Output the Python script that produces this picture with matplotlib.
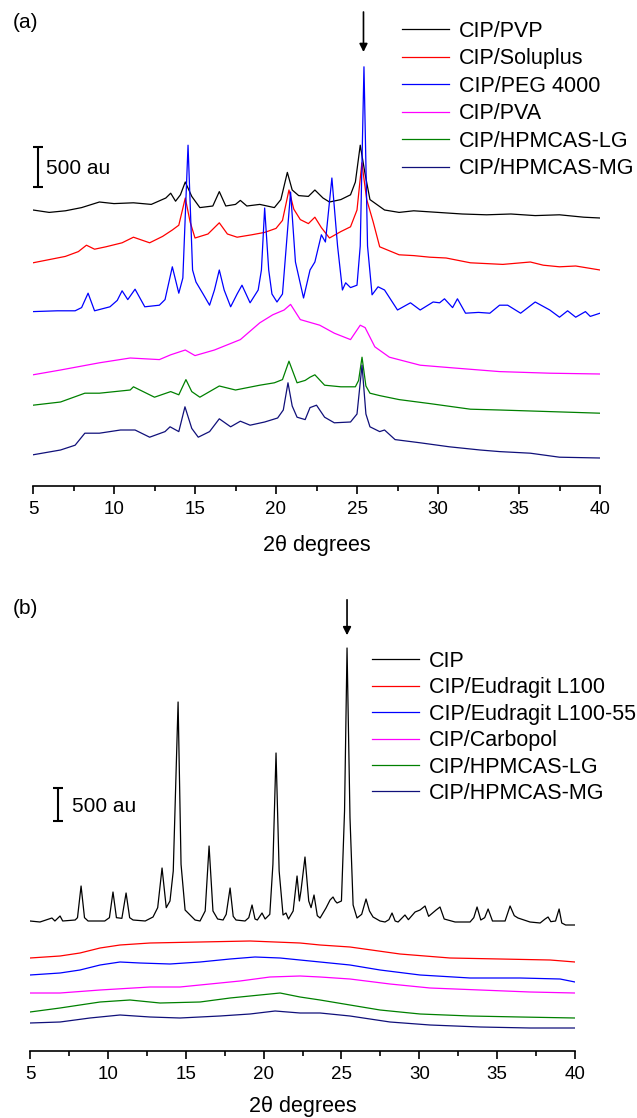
import matplotlib
matplotlib.use("Agg")
import matplotlib.pyplot as plt

plt.rcParams['font.family'] = ['Liberation Sans', 'DejaVu Sans']

# ---------------- panel (a): CIP / polymer blends ----------------
a_labels = ["CIP/PVP", "CIP/Soluplus", "CIP/PEG 4000", "CIP/PVA", "CIP/HPMCAS-LG", "CIP/HPMCAS-MG"]
a_colors = ["black", "#ff0000", "#0000ff", "#ff00ff", "#008000", "#10107a"]

a_pvp_x = [5.0, 6.0, 7.0, 8.0, 9.1, 10.0, 11.2, 12.3, 13.2, 13.5, 13.8, 14.1, 14.4, 14.8, 15.3, 16.1, 16.5, 16.9,
           17.5, 17.8, 18.2, 19.0, 19.9, 20.3, 20.7, 21.0, 21.4, 22.0, 22.4, 22.9, 23.3, 24.0, 24.6, 24.9, 25.2,
           25.5, 25.8, 26.7, 27.6, 28.5, 30.0, 31.5, 33.0, 34.5, 36.0, 37.5, 39.0, 40.0]
a_pvp_y = [3450, 3420, 3440, 3480, 3550, 3530, 3540, 3520, 3600, 3660, 3560, 3640, 3800, 3620, 3480, 3500, 3680, 3500,
           3520, 3570, 3500, 3520, 3480, 3580, 3920, 3700, 3630, 3620, 3700, 3600, 3550, 3580, 3640, 3800, 4260,
           3900, 3580, 3450, 3420, 3440, 3420, 3400, 3390, 3400, 3380, 3390, 3360, 3350]

a_sol_x = [5.0, 6.0, 7.0, 7.8, 8.3, 8.8, 9.5, 10.5, 11.2, 12.2, 13.0, 13.6, 14.0, 14.4, 14.7, 15.0, 15.8, 16.5,
           17.0, 17.6, 18.5, 19.3, 20.0, 20.4, 20.8, 21.1, 21.5, 22.0, 22.4, 22.8, 23.3, 24.0, 24.6, 25.0, 25.3,
           25.6, 26.0, 26.4, 27.0, 27.6, 28.5, 29.5, 30.5, 32.0, 33.0, 34.0, 35.7, 36.5, 37.5, 38.5, 40.0]
a_sol_y = [2790, 2830, 2870, 2930, 3010, 2960, 2990, 3040, 3110, 3040, 3120, 3200, 3260, 3600, 3300, 3100, 3150, 3290,
           3150, 3110, 3140, 3170, 3220, 3320, 3700, 3460, 3330, 3280, 3360, 3230, 3100, 3180, 3240, 3450, 4040,
           3580, 3300, 2990, 2940, 2890, 2880, 2860, 2850, 2790, 2780, 2770, 2800, 2760, 2740, 2750, 2700]

a_peg_x = [5.0, 6.5, 7.6, 8.0, 8.4, 8.8, 9.75, 10.2, 10.5, 10.85, 11.3, 11.9, 12.8, 13.15, 13.6, 14.0, 14.25, 14.57,
           14.85, 15.06, 15.5, 15.9, 16.2, 16.5, 16.8, 17.2, 17.6, 17.9, 18.4, 18.9, 19.1, 19.3, 19.55, 19.75, 20.06,
           20.4, 20.9, 21.2, 21.7, 22.1, 22.4, 22.8, 23.05, 23.45, 23.8, 24.1, 24.3, 24.6, 25.0, 25.2, 25.43, 25.65,
           25.93, 26.3, 26.7, 27.5, 28.3, 28.9, 29.7, 30.1, 30.4, 30.9, 31.2, 31.7, 32.5, 33.2, 33.8, 34.3, 35.1,
           36.0, 36.9, 37.5, 38.0, 38.5, 39.1, 39.4, 40.0]
a_peg_y = [2180, 2190, 2190, 2230, 2410, 2190, 2240, 2320, 2440, 2330, 2460, 2240, 2260, 2330, 2740, 2410, 2600, 4260,
           2700, 2550, 2400, 2260, 2450, 2700, 2450, 2240, 2400, 2510, 2290, 2450, 2700, 3475, 2700, 2400, 2300,
           2400, 3675, 2800, 2350, 2700, 2800, 3140, 3050, 3850, 3000, 2450, 2540, 2480, 2510, 3000, 5240, 3000,
           2390, 2490, 2450, 2200, 2290, 2200, 2300, 2290, 2340, 2230, 2340, 2160, 2170, 2160, 2260, 2260, 2160,
           2300, 2200, 2110, 2190, 2110, 2180, 2120, 2160]

a_pva_x = [5.0, 6.7, 9.1, 11.0, 12.8, 13.5, 14.4, 15.0, 16.2, 17.8, 19.0, 19.8, 20.5, 20.9, 21.5, 22.7, 23.6, 24.6,
           25.2, 25.5, 26.1, 27.0, 28.9, 30.7, 33.8, 36.9, 40.0]
a_pva_y = [1390, 1450, 1540, 1600, 1580, 1640, 1700, 1630, 1700, 1830, 2040, 2140, 2200, 2270, 2080, 2010, 1910, 1830,
           2010, 1980, 1740, 1610, 1510, 1480, 1430, 1410, 1400]

a_lg_x = [5.0, 6.7, 8.2, 9.1, 11.0, 11.2, 12.5, 13.5, 14.0, 14.44, 14.8, 15.3, 16.5, 17.5, 19.0, 19.9, 20.4, 20.8,
          21.3, 21.8, 22.1, 22.4, 23.0, 24.0, 24.9, 25.1, 25.31, 25.55, 25.8, 26.4, 27.6, 29.5, 32.0, 33.8, 36.9, 40.0]
a_lg_y = [1010, 1050, 1160, 1160, 1200, 1240, 1110, 1180, 1140, 1330, 1180, 1110, 1250, 1200, 1260, 1290, 1330, 1560,
          1290, 1320, 1360, 1390, 1260, 1240, 1240, 1320, 1610, 1250, 1160, 1130, 1080, 1030, 960, 950, 930, 910]

a_mg_x = [5.0, 6.7, 7.6, 8.2, 9.1, 10.4, 11.3, 12.2, 13.15, 13.46, 14.0, 14.38, 14.8, 15.2, 15.9, 16.5, 17.2, 17.8,
          18.4, 19.3, 20.1, 20.45, 20.74, 21.0, 21.3, 21.8, 22.1, 22.5, 23.0, 23.6, 24.6, 25.0, 25.31, 25.55, 25.8,
          26.4, 26.7, 27.35, 28.9, 30.7, 32.6, 33.8, 35.7, 37.5, 40.0]
a_mg_y = [390, 450, 510, 660, 660, 700, 700, 610, 680, 740, 680, 990, 720, 610, 680, 840, 740, 810,
          760, 800, 850, 950, 1290, 1000, 860, 830, 980, 1010, 860, 790, 800, 900, 1510, 900, 740,
          680, 700, 580, 540, 490, 450, 430, 410, 360, 350]

# ---------------- panel (b): CIP and amorphous blends ----------------
b_labels = ["CIP", "CIP/Eudragit L100", "CIP/Eudragit L100-55", "CIP/Carbopol", "CIP/HPMCAS-LG", "CIP/HPMCAS-MG"]
b_colors = ["black", "#ff0000", "#0000ff", "#ff00ff", "#008000", "#10107a"]

b_cip_x = [5.0, 5.64, 6.41, 6.6, 6.93, 7.1, 7.9, 8.05, 8.28, 8.5, 8.73, 9.8, 10.1, 10.33, 10.55, 10.9, 11.17, 11.4,
           11.62, 12.4, 12.9, 13.2, 13.48, 13.75, 13.99, 14.2, 14.51, 14.7, 14.96, 15.6, 15.92, 16.25, 16.5, 16.75,
           17.05, 17.4, 17.6, 17.85, 18.05, 18.23, 18.81, 19.05, 19.26, 19.45, 19.6, 19.9, 20.1, 20.4, 20.6, 20.8,
           21.0, 21.25, 21.44, 21.6, 21.9, 22.15, 22.3, 22.4, 22.66, 22.9, 23.05, 23.24, 23.45, 23.63, 24.01, 24.27,
           24.46, 24.6, 24.72, 25.0, 25.2, 25.36, 25.55, 25.75, 26.0, 26.3, 26.58, 26.8, 27.03, 27.48, 27.8, 28.05,
           28.25, 28.45, 28.64, 29.08, 29.3, 29.73, 30.05, 30.37, 30.6, 31.08, 31.33, 31.6, 32.3, 33.26, 33.5, 33.71,
           33.95, 34.2, 34.42, 34.7, 35.51, 35.83, 36.1, 36.34, 37.11, 37.76, 38.08, 38.27, 38.45, 38.75, 38.98,
           39.15, 39.4, 40.0]
b_cip_y = [1950, 1935, 1995, 1950, 2025, 1950, 1965, 2000, 2475, 2000, 1950, 1950, 2000, 2385, 2000, 1990, 2370, 2000,
           1965, 1950, 2010, 2150, 2745, 2150, 2250, 2700, 5235, 2800, 2115, 1965, 1950, 2100, 3075, 2100,
           1980, 1965, 2050, 2445, 2020, 1965, 1950, 2000, 2190, 1980, 1965, 2070, 1980, 2050, 2800, 4470,
           2700, 2040, 2070, 1980, 2100, 2625, 2250, 2400, 2910, 2250, 2150, 2340, 2030, 1995, 2145, 2265,
           2310, 2250, 2220, 2250, 3600, 6045, 3500, 2190, 1995, 2050, 2280, 2100, 2010, 1950, 1935, 1970,
           2070, 1950, 1935, 2040, 1970, 2085, 2115, 2175, 2020, 2115, 2160, 1980, 1935, 1935, 2000, 2160,
           1965, 2000, 2130, 1950, 1950, 2175, 2030, 1995, 1935, 1920, 1980, 2010, 1940, 1950, 2130,
           1920, 1890, 1890]

b_l100_x = [5.0, 6.93, 8.21, 9.5, 10.78, 12.71, 15.92, 19.13, 22.34, 23.63, 25.55, 28.76, 31.97, 35.19, 38.4, 40.0]
b_l100_y = [1395, 1425, 1470, 1545, 1590, 1620, 1635, 1650, 1620, 1590, 1560, 1455, 1395, 1380, 1365, 1335]

b_l10055_x = [5.0, 6.93, 8.21, 9.5, 10.78, 12.06, 13.99, 15.92, 17.85, 19.45, 21.06, 22.34, 23.63, 25.55, 27.48,
              30.05, 33.26, 36.47, 39.04, 40.0]
b_l10055_y = [1140, 1170, 1215, 1290, 1335, 1320, 1305, 1335, 1380, 1410, 1395, 1365, 1335, 1290, 1215,
              1140, 1095, 1095, 1080, 1035]

b_carb_x = [5.0, 6.93, 9.5, 12.71, 14.63, 16.56, 18.49, 20.41, 22.34, 23.63, 25.55, 28.12, 30.69, 33.9, 37.11, 40.0]
b_carb_y = [870, 870, 915, 960, 960, 1005, 1050, 1110, 1125, 1110, 1080, 1005, 945, 915, 885, 870]

b_lg_x = [5.0, 6.93, 8.21, 9.5, 11.42, 13.35, 15.92, 17.85, 19.77, 21.06, 22.34, 23.63, 25.55, 27.48, 30.05, 33.26,
          36.47, 40.0]
b_lg_y = [585, 645, 690, 735, 765, 720, 735, 795, 840, 870, 810, 765, 690, 615, 555, 525, 510, 495]

b_mg_x = [5.0, 6.93, 8.85, 10.78, 12.71, 14.63, 17.2, 19.13, 20.74, 22.34, 23.63, 25.55, 28.12, 30.69, 33.9, 37.11, 40.0]
b_mg_y = [420, 435, 495, 540, 510, 495, 525, 555, 600, 570, 570, 525, 435, 390, 360, 345, 345]

a_series = [(a_pvp_x, a_pvp_y), (a_sol_x, a_sol_y), (a_peg_x, a_peg_y),
            (a_pva_x, a_pva_y), (a_lg_x, a_lg_y), (a_mg_x, a_mg_y)]
b_series = [(b_cip_x, b_cip_y), (b_l100_x, b_l100_y), (b_l10055_x, b_l10055_y),
            (b_carb_x, b_carb_y), (b_lg_x, b_lg_y), (b_mg_x, b_mg_y)]

W, H = 637, 1118
fig = plt.figure(figsize=(W / 100, H / 100), dpi=100)


def px_axes(left, right, top, bottom):
    return fig.add_axes([left / W, 1 - bottom / H, (right - left) / W, (bottom - top) / H])


def style_axis(ax, labelpad):
    for side in ["left", "right", "top"]:
        ax.spines[side].set_visible(False)
    ax.spines["bottom"].set_linewidth(1.2)
    ax.set_yticks([])
    ax.set_xlim(5, 40)
    ax.set_xticks([5, 10, 15, 20, 25, 30, 35, 40])
    ax.set_xticks([7.5, 12.5, 17.5, 22.5, 27.5, 32.5, 37.5], minor=True)
    ax.tick_params(axis="x", which="major", direction="out", length=6, width=1.2, labelsize=13.5, pad=5)
    ax.tick_params(axis="x", which="minor", direction="out", length=3.5, width=1.2)
    ax.set_xlabel("2θ degrees", fontsize=15.5, labelpad=labelpad)
    ax.patch.set_alpha(0)


# panel (a)
ax1 = px_axes(33, 600, 0, 486)
ax1.set_ylim(0, 6075)
for (x, y), c, lab in zip(a_series, a_colors, a_labels):
    ax1.plot(x, y, color=c, lw=0.9, label=lab)
style_axis(ax1, 12)
ax1.errorbar([5.31], [3990], yerr=[250], color="black", lw=1.5, capsize=3.5, capthick=1.5)
ax1.text(5.8, 3975, "500 au", fontsize=15, va="center", ha="left")
ax1.annotate("", xy=(25.4, 5390), xytext=(25.4, 5960),
             arrowprops=dict(arrowstyle="-|>", color="black", lw=1.2, mutation_scale=12))
ax1.legend(loc="upper left", bbox_to_anchor=(402 / W, 1 - 21 / H), bbox_transform=fig.transFigure,
           frameon=False, fontsize=15.5, handlelength=2.2, handletextpad=0.45, labelspacing=0.3,
           borderpad=0, borderaxespad=0)
fig.text(13 / W, 1 - 23 / H, "(a)", fontsize=15, va="center", ha="left")

# panel (b)
ax2 = px_axes(30, 575, 580, 1051)
ax2.set_ylim(0, 7065)
for (x, y), c, lab in zip(b_series, b_colors, b_labels):
    ax2.plot(x, y, color=c, lw=0.9, label=lab)
style_axis(ax2, 9)
ax2.errorbar([6.8], [3700], yerr=[250], color="black", lw=1.5, capsize=3.5, capthick=1.5)
ax2.text(7.7, 3660, "500 au", fontsize=15, va="center", ha="left")
ax2.annotate("", xy=(25.36, 6195), xytext=(25.36, 6810),
             arrowprops=dict(arrowstyle="-|>", color="black", lw=1.2, mutation_scale=12))
ax2.legend(loc="upper left", bbox_to_anchor=(372 / W, 1 - 651 / H), bbox_transform=fig.transFigure,
           frameon=False, fontsize=15.5, handlelength=2.2, handletextpad=0.45, labelspacing=0.25,
           borderpad=0, borderaxespad=0)
fig.text(13 / W, 1 - 608 / H, "(b)", fontsize=15, va="center", ha="left")

fig.savefig("out.png", dpi=100)
